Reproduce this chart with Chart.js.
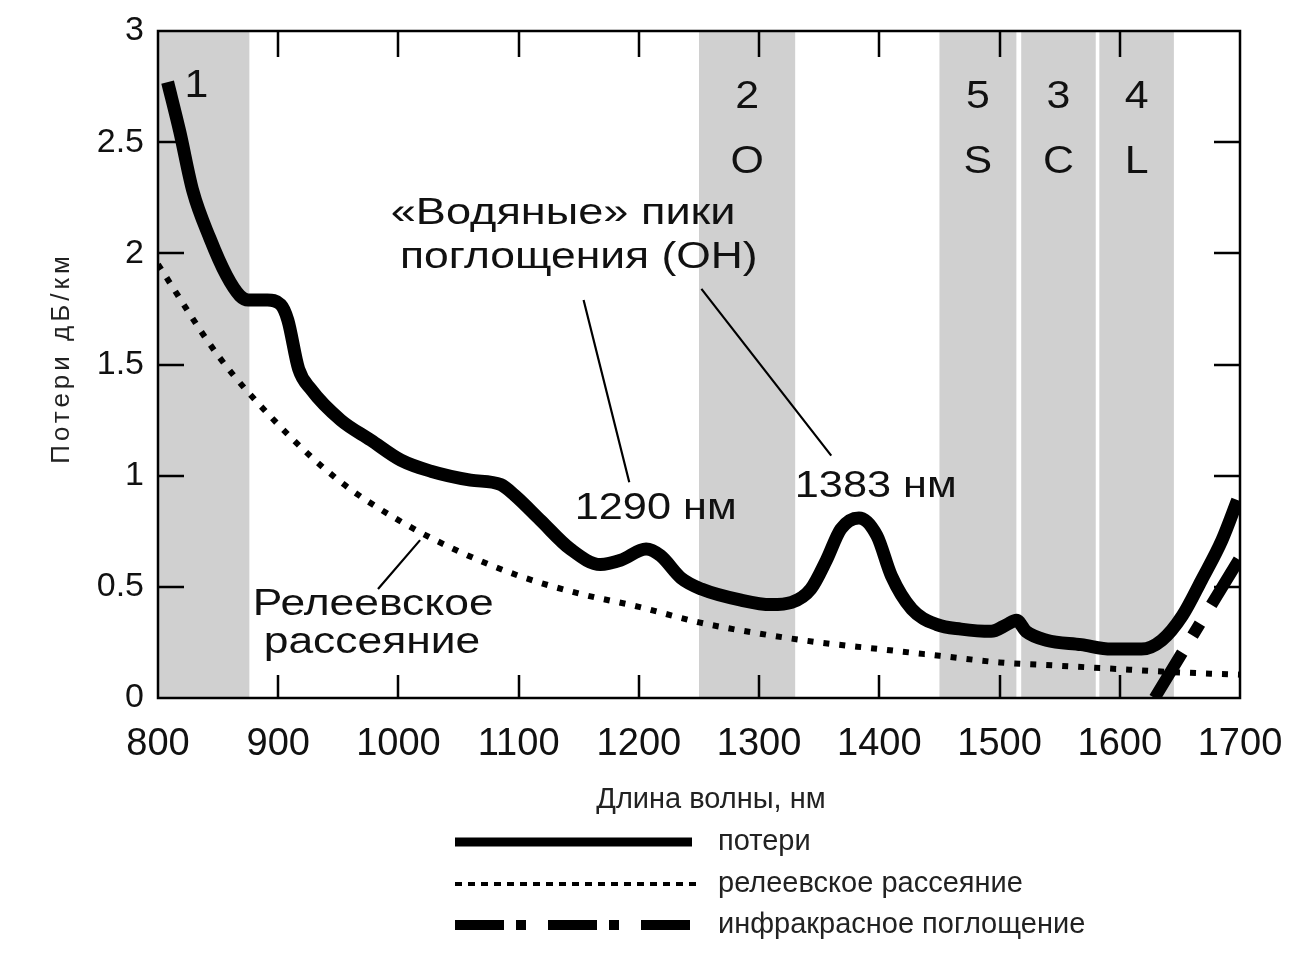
<!DOCTYPE html>
<html>
<head>
<meta charset="utf-8">
<script src="https://cdn.jsdelivr.net/npm/chart.js@4.4.0/dist/chart.umd.min.js"></script>
<style>
    html, body { margin: 0; padding: 0; background: #fff; }
    #wrap { width: 1299px; height: 960px; position: relative; }
</style>
</head>
<body>
<div id="wrap"><canvas id="lossChart"></canvas></div>
<script>
// --- data ---
const lossWavelengths = [808, 818, 829, 843, 857, 868, 875, 891, 902, 908, 917, 927, 952, 977, 1002, 1027, 1060, 1085, 1097, 1118, 1143, 1168, 1185, 1206, 1218, 1235, 1252, 1285, 1310, 1327, 1343, 1356, 1368, 1383, 1398, 1410, 1427, 1448, 1468, 1493, 1506, 1514, 1522, 1539, 1568, 1593, 1618, 1635, 1652, 1668, 1685, 1698];
const lossValues = [2.77, 2.55, 2.28, 2.07, 1.90, 1.81, 1.79, 1.79, 1.77, 1.70, 1.48, 1.39, 1.25, 1.16, 1.07, 1.02, 0.98, 0.96, 0.91, 0.80, 0.67, 0.60, 0.62, 0.67, 0.64, 0.54, 0.49, 0.44, 0.42, 0.43, 0.49, 0.62, 0.76, 0.81, 0.73, 0.55, 0.40, 0.33, 0.31, 0.30, 0.33, 0.35, 0.30, 0.26, 0.24, 0.22, 0.22, 0.26, 0.37, 0.53, 0.71, 0.89];

const rayleighWavelengths = [800, 850, 900, 950, 1000, 1050, 1100, 1150, 1200, 1250, 1300, 1350, 1400, 1450, 1500, 1550, 1600, 1650, 1700];
const rayleighValues = [1.95, 1.54, 1.23, 0.98, 0.80, 0.66, 0.55, 0.47, 0.41, 0.34, 0.29, 0.25, 0.22, 0.19, 0.16, 0.145, 0.13, 0.115, 0.105];

const infraredWavelengths = [1629, 1700];
const infraredValues = [0, 0.63];

const seriesLabels = ['потери', 'релеевское рассеяние', 'инфракрасное поглощение'];

// transmission windows
const bandStarts = [800, 1250, 1450, 1518, 1583];
const bandEnds = [876, 1330, 1514, 1580, 1645];
const bandNumbers = ['1', '2', '5', '3', '4'];
const bandNames = ['', 'O', 'S', 'C', 'L'];

const xTitle = 'Длина волны, нм';
const yTitle = 'Потери дБ/км';

const FONT = "'Liberation Sans', Arial, sans-serif";

function toPoints(xs, ys) {
    return xs.map((x, i) => ({ x: x, y: ys[i] }));
}

function stretchedText(ctx, text, x, y, size, sx) {
    ctx.save();
    ctx.font = size + 'px ' + FONT;
    ctx.translate(x, y);
    ctx.scale(sx, 1);
    ctx.fillText(text, 0, 0);
    ctx.restore();
}

const extrasPlugin = {
    id: 'extras',
    beforeDatasetsDraw(chart) {
        const { ctx, chartArea: a, scales: { x, y } } = chart;
        ctx.save();
        ctx.fillStyle = '#d0d0d0';
        bandStarts.forEach((s, i) => {
            const x0 = x.getPixelForValue(s);
            const x1 = x.getPixelForValue(bandEnds[i]);
            ctx.fillRect(x0, a.top, x1 - x0, a.bottom - a.top);
        });
        ctx.fillStyle = '#111';
        ctx.textAlign = 'center';
        ctx.textBaseline = 'middle';
        bandStarts.forEach((s, i) => {
            const cx = x.getPixelForValue((s + bandEnds[i]) / 2);
            if (bandNames[i]) {
                stretchedText(ctx, bandNumbers[i], cx, y.getPixelForValue(2.70), 39, 1.1);
                stretchedText(ctx, bandNames[i], cx, y.getPixelForValue(2.41), 39, 1.1);
            } else {
                stretchedText(ctx, bandNumbers[i], x.getPixelForValue(832), y.getPixelForValue(2.75), 39, 1.1);
            }
        });
        ctx.restore();
    },
    afterDatasetsDraw(chart) {
        const { ctx, chartArea: a, scales: { x, y } } = chart;
        ctx.save();

        // frame and inward ticks
        ctx.strokeStyle = '#000';
        ctx.lineWidth = 2.5;
        ctx.strokeRect(a.left, a.top, a.right - a.left, a.bottom - a.top);
        ctx.beginPath();
        x.ticks.forEach(t => {
            if (t.value <= x.min || t.value >= x.max) return;
            const px = Math.round(x.getPixelForValue(t.value));
            ctx.moveTo(px, a.bottom); ctx.lineTo(px, a.bottom - 23);
            ctx.moveTo(px, a.top); ctx.lineTo(px, a.top + 26);
        });
        y.ticks.forEach(t => {
            if (t.value <= y.min || t.value >= y.max) return;
            const py = Math.round(y.getPixelForValue(t.value));
            ctx.moveTo(a.left, py); ctx.lineTo(a.left + 26, py);
            ctx.moveTo(a.right, py); ctx.lineTo(a.right - 26, py);
        });
        ctx.stroke();

        // annotations
        const P = (wl, v) => [x.getPixelForValue(wl), y.getPixelForValue(v)];
        ctx.lineWidth = 2.2;
        ctx.beginPath();
        let p = P(1154, 1.79); ctx.moveTo(p[0], p[1]);
        p = P(1192, 0.97); ctx.lineTo(p[0], p[1]);
        p = P(1252, 1.84); ctx.moveTo(p[0], p[1]);
        p = P(1360, 1.09); ctx.lineTo(p[0], p[1]);
        p = P(1018, 0.71); ctx.moveTo(p[0], p[1]);
        p = P(983, 0.49); ctx.lineTo(p[0], p[1]);
        ctx.stroke();

        ctx.fillStyle = '#111';
        ctx.textAlign = 'center';
        ctx.textBaseline = 'middle';
        p = P(1137, 2.18); stretchedText(ctx, '«Водяные» пики', p[0], p[1], 37, 1.22);
        p = P(1150, 1.98); stretchedText(ctx, 'поглощения (ОН)', p[0], p[1], 37, 1.2);
        p = P(1214, 0.85); stretchedText(ctx, '1290 нм', p[0], p[1], 37, 1.17);
        p = P(1397, 0.95); stretchedText(ctx, '1383 нм', p[0], p[1], 37, 1.17);
        p = P(979, 0.42); stretchedText(ctx, 'Релеевское', p[0], p[1], 37, 1.2);
        p = P(978, 0.25); stretchedText(ctx, 'рассеяние', p[0], p[1], 37, 1.2);

        // axis titles
        ctx.fillStyle = '#222';
        ctx.font = '29px ' + FONT;
        ctx.fillText(xTitle, 711, 800);
        ctx.save();
        ctx.translate(62, 358);
        ctx.rotate(-Math.PI / 2);
        ctx.letterSpacing = '4px';
        ctx.font = '26px ' + FONT;
        ctx.fillText(yTitle, 0, 0);
        ctx.restore();

        // legend
        const legendX0 = 455, legendX1 = 699, legendY = [842, 884, 925];
        chart.data.datasets.forEach((ds, i) => {
            ctx.save();
            ctx.strokeStyle = ds.borderColor;
            ctx.lineWidth = ds.legendWidth;
            ctx.setLineDash(ds.legendDash);
            ctx.lineCap = 'butt';
            ctx.beginPath();
            ctx.moveTo(legendX0, legendY[i]);
            ctx.lineTo(i === 0 ? 692 : legendX1, legendY[i]);
            ctx.stroke();
            ctx.restore();
            ctx.fillStyle = '#222';
            ctx.textAlign = 'left';
            ctx.font = '29px ' + FONT;
            ctx.fillText(ds.label, 718, legendY[i]);
        });

        ctx.restore();
    }
};

const lossCtx = document.getElementById('lossChart').getContext('2d');
new Chart(lossCtx, {
    type: 'line',
    data: {
        datasets: [{
            label: seriesLabels[0],
            data: toPoints(lossWavelengths, lossValues),
            borderColor: '#000',
            borderWidth: 13,
            borderCapStyle: 'butt',
            borderJoinStyle: 'round',
            cubicInterpolationMode: 'monotone',
            pointRadius: 0,
            legendWidth: 9,
            legendDash: []
        }, {
            label: seriesLabels[1],
            data: toPoints(rayleighWavelengths, rayleighValues),
            borderColor: '#000',
            borderWidth: 6,
            borderDash: [6, 10],
            cubicInterpolationMode: 'monotone',
            pointRadius: 0,
            legendWidth: 4,
            legendDash: [7, 6]
        }, {
            label: seriesLabels[2],
            data: toPoints(infraredWavelengths, infraredValues),
            borderColor: '#000',
            borderWidth: 12,
            borderDash: [53, 20, 14, 22],
            pointRadius: 0,
            legendWidth: 10,
            legendDash: [49, 12, 10, 22]
        }]
    },
    options: {
        responsive: true,
        maintainAspectRatio: false,
        animation: false,
        layout: { padding: { top: 31, right: 59, left: 0, bottom: 0 } },
        plugins: {
            legend: { display: false },
            tooltip: { enabled: false }
        },
        scales: {
            x: {
                type: 'linear',
                min: 800,
                max: 1700,
                ticks: {
                    stepSize: 100,
                    padding: 24,
                    color: '#111',
                    font: { family: FONT, size: 38 },
                    maxRotation: 0,
                    callback: v => String(v)
                },
                grid: { display: false, drawTicks: false },
                border: { display: false },
                // keep the plot box where the picture has it
                afterFit: s => { s.height = 262; s.paddingLeft = 0; s.paddingRight = 0; }
            },
            y: {
                min: 0,
                max: 3,
                ticks: {
                    stepSize: 0.5,
                    padding: 14,
                    color: '#111',
                    font: { family: FONT, size: 34 },
                    callback: v => String(v)
                },
                grid: { display: false, drawTicks: false },
                border: { display: false },
                afterFit: s => { s.width = 158; s.paddingTop = 0; s.paddingBottom = 0; }
            }
        }
    },
    plugins: [extrasPlugin]
});
</script>
</body>
</html>
